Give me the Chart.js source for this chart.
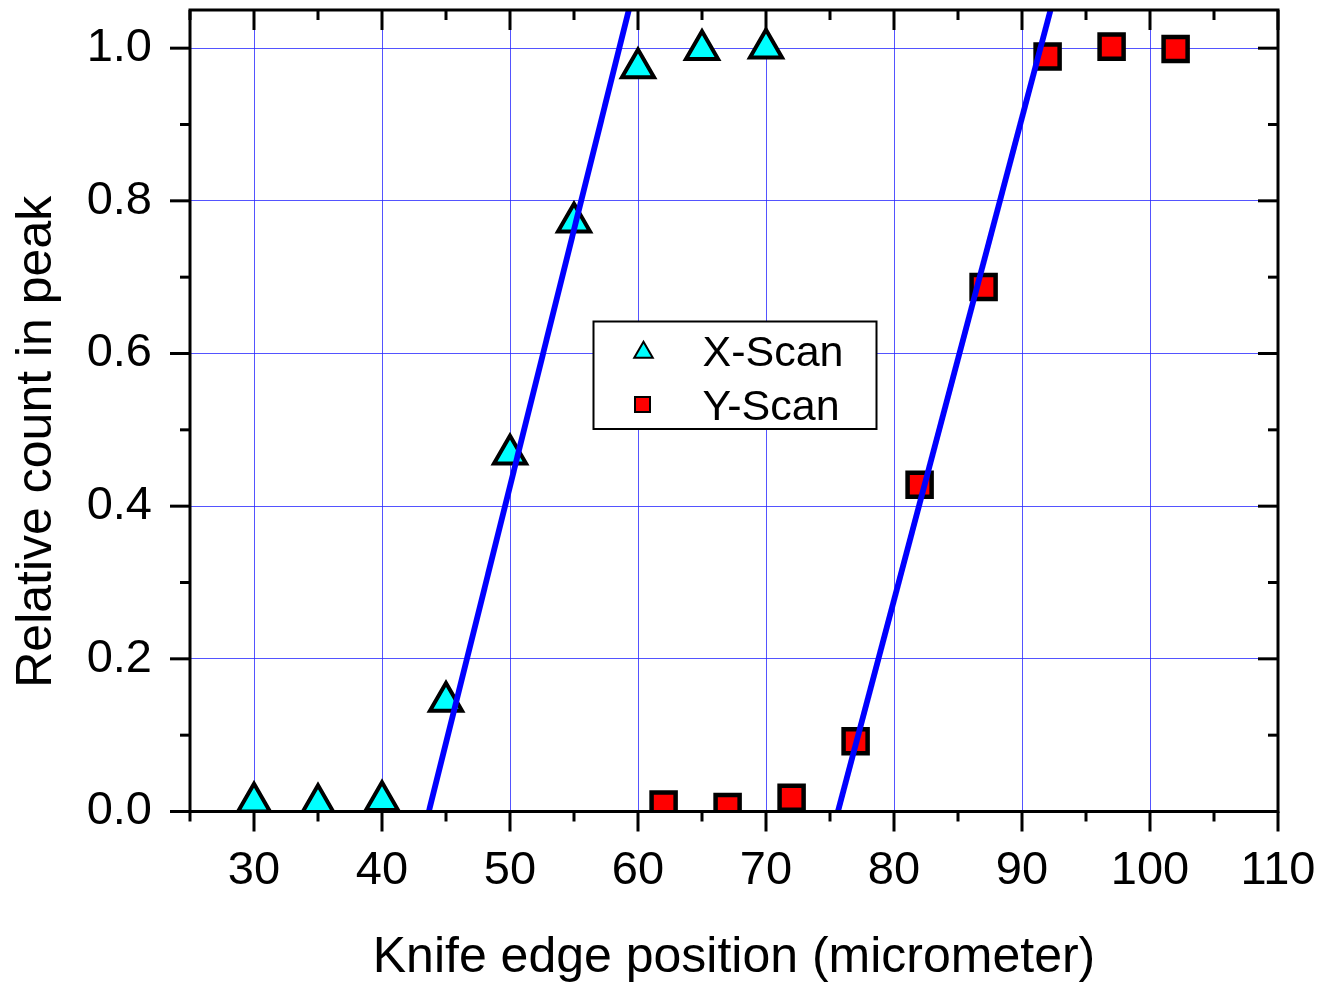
<!DOCTYPE html>
<html><head><meta charset="utf-8">
<script src="https://cdn.jsdelivr.net/npm/chart.js@4/dist/chart.umd.min.js"></script>
<style>html,body{margin:0;padding:0;background:#fff;} #wrap{width:1339px;height:984px;position:relative;}</style>
</head><body><div id="wrap"><canvas id="c"></canvas></div>
<script>
const xScanPos = [30, 35, 40, 45, 50, 55, 60, 65, 70];
const xScanVal = [0.012, 0.010, 0.014, 0.144, 0.468, 0.772, 0.974, 0.998, 1.000];
const yScanPos = [62, 67, 72, 77, 82, 87, 92, 97, 102];
const yScanVal = [0.009, 0.006, 0.018, 0.092, 0.428, 0.687, 0.989, 1.002, 0.999];
const fitXPos = [43.66, 59.28];
const fitXVal = [0, 1.05];
const fitYPos = [75.62, 92.23];
const fitYVal = [0, 1.05];
const xTicks = [30, 40, 50, 60, 70, 80, 90, 100, 110];
const xMinorTicks = [25, 35, 45, 55, 65, 75, 85, 95, 105];
const yTicks = [0, 0.2, 0.4, 0.6, 0.8, 1.0];
const yMinorTicks = [0.1, 0.3, 0.5, 0.7, 0.9];
const seriesNames = ['X-Scan', 'Y-Scan'];
const xTitle = 'Knife edge position (micrometer)';
const yTitle = 'Relative count in peak';

const FONT = '"Liberation Sans", Arial, sans-serif';
Chart.defaults.font.family = FONT;
Chart.defaults.color = '#000';

const pts = (xs, ys) => xs.map((v, i) => ({x: v, y: ys[i]}));

const markerStyles = [
  {pointStyle: 'triangle', bg: '#00ffff', lr: 10.7, lbw: 2},
  {pointStyle: 'rect', bg: '#ff0000', lr: 10.6, lbw: 2}
];

const noPadPlugin = {
  id: 'nopad',
  beforeLayout(chart) {
    Object.values(chart.scales).forEach(s => {
      s.getPadding = () => ({left: 0, top: 0, right: 0, bottom: 0});
    });
  }
};

const framePlugin = {
  id: 'frame',
  afterDraw(chart) {
    const {ctx, chartArea: a, scales} = chart;
    const sx = scales.x, sy = scales.y;
    ctx.save();
    ctx.strokeStyle = '#000';
    ctx.lineWidth = 3;
    ctx.lineCap = 'butt';
    ctx.strokeRect(a.left, a.top, a.right - a.left, a.bottom - a.top);
    const seg = (x1, y1, x2, y2) => { ctx.beginPath(); ctx.moveTo(x1, y1); ctx.lineTo(x2, y2); ctx.stroke(); };
    xTicks.forEach(v => { const p = sx.getPixelForValue(v); seg(p, a.bottom, p, a.bottom + 20); seg(p, a.top, p, a.top + 20); });
    xMinorTicks.forEach(v => { const p = sx.getPixelForValue(v); seg(p, a.bottom, p, a.bottom + 10); seg(p, a.top, p, a.top + 10); });
    yTicks.forEach(v => { const p = sy.getPixelForValue(v); seg(a.left - 20, p, a.left, p); seg(a.right - 20, p, a.right, p); });
    yMinorTicks.forEach(v => { const p = sy.getPixelForValue(v); seg(a.left - 10, p, a.left, p); seg(a.right - 10, p, a.right, p); });

    // y-axis title (placed a little below the axis centre, as in the original)
    ctx.save();
    ctx.translate(37, (a.top + a.bottom) / 2 + 31);
    ctx.rotate(-Math.PI / 2);
    ctx.fillStyle = '#000';
    ctx.font = '50px ' + FONT;
    ctx.textAlign = 'center';
    ctx.textBaseline = 'middle';
    ctx.fillText(yTitle, 0, 0);
    ctx.restore();

    // legend
    const L = a.left + 403.5, T = a.top + 311.5, W = 283, H = 107.5;
    ctx.fillStyle = '#fff';
    ctx.fillRect(L, T, W, H);
    ctx.lineWidth = 2;
    ctx.strokeRect(L, T, W, H);
    const rows = [{mx: L + 50, my: T + 31, ty: T + 44.5}, {mx: L + 49, my: T + 83, ty: T + 98.5}];
    seriesNames.forEach((name, i) => {
      const m = markerStyles[i];
      ctx.fillStyle = m.bg;
      ctx.strokeStyle = '#000';
      ctx.lineWidth = m.lbw;
      Chart.helpers.drawPoint(ctx, {pointStyle: m.pointStyle, radius: m.lr, rotation: 0, borderWidth: m.lbw}, rows[i].mx, rows[i].my);
      ctx.fillStyle = '#000';
      ctx.font = '43px ' + FONT;
      ctx.textBaseline = 'alphabetic';
      ctx.textAlign = 'left';
      ctx.fillText(name, L + 109, rows[i].ty);
    });
    ctx.restore();
  }
};

new Chart(document.getElementById('c'), {
  type: 'scatter',
  data: {
    datasets: [
      {label: 'fitX', data: pts(fitXPos, fitXVal), showLine: true, borderColor: '#0000ff', borderWidth: 5.8, pointRadius: 0, order: 0},
      {label: 'fitY', data: pts(fitYPos, fitYVal), showLine: true, borderColor: '#0000ff', borderWidth: 5.8, pointRadius: 0, order: 0},
      {label: seriesNames[0], data: pts(xScanPos, xScanVal), pointStyle: 'triangle', pointRadius: 18.5, pointBorderWidth: 4,
       backgroundColor: '#00ffff', borderColor: '#000', order: 1, clip: 0},
      {label: seriesNames[1], data: pts(yScanPos, yScanVal), pointStyle: 'rect', pointRadius: 17, pointBorderWidth: 4.5,
       backgroundColor: '#ff0000', borderColor: '#000', order: 1, clip: 0}
    ]
  },
  options: {
    responsive: true,
    maintainAspectRatio: false,
    animation: false,
    layout: {autoPadding: false, padding: {left: 0, top: 10, right: 61, bottom: 0}},
    plugins: {legend: {display: false}, tooltip: {enabled: false}},
    scales: {
      x: {
        type: 'linear', min: 25, max: 110,
        afterBuildTicks: s => { s.ticks = xTicks.map(v => ({value: v})); },
        afterFit: s => { s.height = 172.5; s.paddingLeft = 0; s.paddingRight = 0; },
        grid: {color: 'rgba(40,40,255,0.8)', lineWidth: 1, drawTicks: true, tickLength: 20, tickColor: 'rgba(0,0,0,0)'},
        border: {display: false},
        ticks: {font: {size: 47}, padding: 11, maxRotation: 0, callback: v => String(v)},
        title: {display: true, text: xTitle, font: {size: 50, lineHeight: 1.05}, padding: {top: 0, bottom: 0}}
      },
      y: {
        type: 'linear', min: 0, max: 1.05,
        afterBuildTicks: s => { s.ticks = yTicks.map(v => ({value: v})); },
        afterFit: s => { s.width = 190; s.paddingTop = 0; s.paddingBottom = 0; },
        grid: {color: 'rgba(40,40,255,0.8)', lineWidth: 1, drawTicks: true, tickLength: 20, tickColor: 'rgba(0,0,0,0)'},
        border: {display: false},
        ticks: {font: {size: 47}, padding: 18, callback: v => Number(v).toFixed(1)},
        title: {display: false, text: yTitle}
      }
    }
  },
  plugins: [noPadPlugin, framePlugin]
});
</script>
</body></html>
